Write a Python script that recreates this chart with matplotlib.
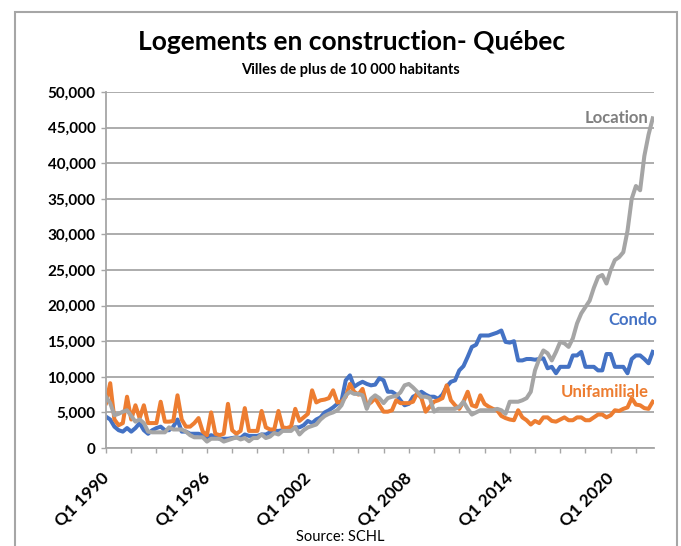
import numpy as np
import matplotlib
matplotlib.use("Agg")
import matplotlib.pyplot as plt
from matplotlib.patches import Rectangle

plt.rcParams['font.family'] = ['Lato', 'DejaVu Sans']

# Quarterly data, Q1 1990 -> Q3 2022 (131 quarters)
start_year = 1990
n_quarters = 131

unifamiliale = [
    6300, 9100, 4000, 3200,   # 1990
    3500, 7200, 4000, 6000,   # 1991
    4200, 6000, 3500, 3500,   # 1992
    3500, 6500, 3700, 3700,   # 1993
    3800, 7400, 4000, 3000,   # 1994
    3000, 3500, 4200, 2300,   # 1995
    1800, 5000, 2000, 1800,   # 1996
    2000, 6200, 2500, 2000,   # 1997
    2400, 5600, 2400, 2400,   # 1998
    2400, 5200, 2900, 2600,   # 1999
    2600, 5200, 2900, 2800,   # 2000
    3000, 5500, 3800, 4300,   # 2001
    4800, 8100, 6400, 6700,   # 2002
    6800, 7000, 8100, 6400,   # 2003
    6500, 7200, 9000, 7900,   # 2004
    7500, 8300, 6000, 6400,   # 2005
    7000, 6000, 5100, 5100,   # 2006
    5300, 6700, 6300, 6300,   # 2007
    6300, 6500, 7700, 7000,   # 2008
    5100, 5800, 6500, 6700,   # 2009
    7000, 8800, 6700, 6000,   # 2010
    5500, 6500, 7900, 6000,   # 2011
    5800, 7400, 6200, 5800,   # 2012
    5500, 5300, 4500, 4200,   # 2013
    4000, 3900, 5300, 4300,   # 2014
    3900, 3300, 3800, 3500,   # 2015
    4300, 4300, 3800, 3700,   # 2016
    4000, 4300, 3900, 3900,   # 2017
    4300, 4300, 3900, 3900,   # 2018
    4300, 4700, 4700, 4300,   # 2019
    4600, 5300, 5200, 5500,   # 2020
    5700, 7000, 6100, 6000,   # 2021
    5600, 5500, 6500,         # 2022
]

condo = [
    4400, 4000, 3000, 2500,
    2300, 2800, 2300, 2800,
    3500, 2500, 2000, 2500,
    2800, 3000, 2500, 2500,
    3000, 4000, 2300, 2300,
    2000, 2000, 2000, 1800,
    1500, 1800, 1600, 1300,
    1300, 1300, 1400, 1500,
    1400, 1900, 1700, 1700,
    1700, 1900, 1900, 2200,
    2400, 2400, 2500, 2600,
    2700, 2900, 2900, 3200,
    3800, 3500, 4000, 4300,
    5000, 5300, 5700, 6200,
    6600, 9500, 10200, 8600,
    9000, 9300, 9000, 8800,
    8900, 9800, 9500, 7900,
    7900, 7500, 6700, 6000,
    6200, 7200, 7500, 7900,
    7500, 7200, 7200, 6900,
    7500, 8600, 9300, 9500,
    10900, 11500, 12800, 14200,
    14500, 15800, 15800, 15800,
    16000, 16200, 16500, 14900,
    14800, 15000, 12300, 12300,
    12500, 12500, 12400, 12500,
    12600, 11200, 11400, 10500,
    11400, 11400, 11400, 13000,
    13000, 13500, 11400, 11400,
    11400, 10900, 10900, 13200,
    13200, 11400, 11400, 11400,
    10500, 12500, 13000, 13000,
    12500, 11900, 13500,
]

location = [
    7200, 6300, 4600, 4800,
    5100, 5300, 4500, 3700,
    4000, 3500, 2300, 2200,
    2200, 2200, 2200, 2900,
    2600, 2600, 2600, 2300,
    1800, 1500, 1500, 1500,
    900, 1300, 1300, 1300,
    900, 1100, 1300, 1500,
    1200, 1400, 950, 1400,
    1400, 1900, 1400, 1600,
    2100, 1900, 2400, 2400,
    2400, 2900, 1900, 2500,
    2900, 3100, 3300, 4000,
    4500, 4800, 5000, 5300,
    6000, 7400, 7900, 7600,
    7600, 7400, 5500, 6900,
    7400, 7000, 6300, 7000,
    7200, 7300, 7800, 8800,
    9000, 8500, 7900, 7200,
    7200, 7000, 5100, 5500,
    5500, 5500, 5500, 5500,
    5800, 6500, 5500, 4700,
    5000, 5300, 5300, 5300,
    5300, 5500, 5300, 4800,
    6500, 6500, 6500, 6700,
    7000, 7900, 10900, 12500,
    13700, 13300, 12300, 13500,
    14900, 14700, 14200, 15400,
    17500, 18900, 19800, 20700,
    22500, 24000, 24300, 23100,
    25000, 26400, 26800, 27500,
    30500, 35000, 36800, 36200,
    41000, 44000, 46300,
]

colors = {"Condo": "#4472C4", "Unifamiliale": "#ED7D31", "Location": "#A5A5A5"}
y_ticks = list(range(0, 50001, 5000))

x = np.arange(n_quarters)
tick_pos = list(range(0, n_quarters, 6))
tick_labels = [f"Q1 {start_year + p // 4}" if p % 24 == 0 else "" for p in tick_pos]

fig = plt.figure(figsize=(6.81, 5.46), dpi=100)
ax = fig.add_axes([106 / 681, 1 - 448 / 546, 548 / 681, 356 / 546])

ax.plot(x, condo, color=colors["Condo"], linewidth=2.9, solid_joinstyle='round')
ax.plot(x, unifamiliale, color=colors["Unifamiliale"], linewidth=2.9, solid_joinstyle='round')
ax.plot(x, location, color=colors["Location"], linewidth=2.9, solid_joinstyle='round')

ax.set_xlim(0, 130.3)
ax.set_ylim(0, 50000)
ax.set_yticks(y_ticks)
ax.set_yticklabels([f"{v:,}" for v in y_ticks], fontsize=11, fontweight='bold')
ax.set_xticks(tick_pos)
ax.set_xticklabels(tick_labels, fontsize=12.5, fontweight='bold', rotation=45,
                   ha='right', va='center', rotation_mode='anchor')
ax.tick_params(axis='x', length=3.6, width=1, color='#A6A6A6', pad=16)
ax.tick_params(axis='y', length=3.6, width=1, color='#A6A6A6', pad=4)

ax.grid(axis='y', color='#A6A6A6', linewidth=1.3)
ax.set_axisbelow(True)
for side in ['top', 'right']:
    ax.spines[side].set_visible(False)
for side in ['left', 'bottom']:
    ax.spines[side].set_color('#A6A6A6')
    ax.spines[side].set_linewidth(1.3)

# series labels
ax.text(129, 46300, "Location", color='#7F7F7F', fontsize=12, fontweight='bold',
        ha='right', va='center')
ax.text(131, 18000, "Condo", color=colors["Condo"], fontsize=12, fontweight='bold',
        ha='right', va='center')
ax.text(129, 7900, "Unifamiliale", color=colors["Unifamiliale"], fontsize=12,
        fontweight='bold', ha='right', va='center')

fig.text(0.516, 1 - 42 / 546, "Logements en construction- Québec", fontsize=19,
         fontweight='bold', ha='center', va='center')
fig.text(0.514, 1 - 70 / 546, "Villes de plus de 10 000 habitants", fontsize=10.5,
         fontweight='bold', ha='center', va='center')
fig.text(0.50, 1 - 537 / 546, "Source: SCHL", fontsize=10.5, ha='center', va='center')

# chart frame
fig.patches.append(Rectangle((15 / 681, -0.02), 662 / 681, 1.02 - 12 / 546,
                             transform=fig.transFigure, fill=False,
                             edgecolor='#A6A6A6', linewidth=1.5))

fig.savefig("out.png", dpi=100)
